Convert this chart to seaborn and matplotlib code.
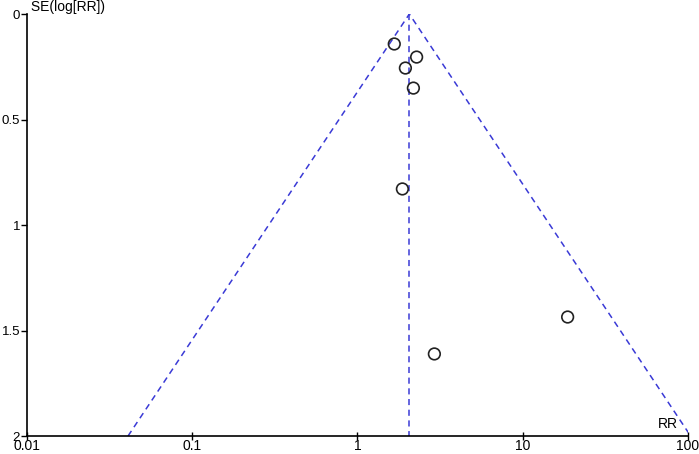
import matplotlib
matplotlib.use("Agg")
import matplotlib.pyplot as plt
import numpy as np
import pandas as pd
import seaborn as sns

# study estimates
rr = [1.67, 2.28, 1.95, 2.18, 1.87, 18.7, 2.92]
se = [0.142, 0.204, 0.256, 0.351, 0.829, 1.436, 1.611]
pooled_rr = 2.06
se_max = 2.0
x_ticks = [0.01, 0.1, 1, 10, 100]
x_tick_labels = ["0.01", "0.1", "1", "10", "100"]
y_ticks = [0, 0.5, 1, 1.5, 2]
y_tick_labels = ["0", "0.5", "1", "1.5", "2"]

sns.set_theme(style="white")
plt.rcParams["font.family"] = ["Liberation Sans", "DejaVu Sans"]

df = pd.DataFrame({"rr": rr, "se": se})

fig = plt.figure(figsize=(6.99, 4.54), dpi=100)
ax = fig.add_axes([0.0386, 0.0396, 0.9456, 0.9295])

line_color = "#3a3ad6"
funnel = pd.DataFrame({"se": [se_max, 0, se_max]})
funnel["rr"] = pooled_rr * np.exp(1.96 * funnel["se"] * np.array([-1, 0, 1]))
ax.plot(funnel["rr"], funnel["se"], ls=(0, (4, 3)), color=line_color, lw=1.1)
ax.plot([pooled_rr, pooled_rr], [0, se_max], ls=(0, (4, 3)), color=line_color, lw=1.1)

sns.scatterplot(data=df, x="rr", y="se", ax=ax, marker="o", s=70,
                facecolor="none", edgecolor="#222222", linewidth=1.2, zorder=3)

ax.set_xscale("log")
ax.set_xlim(0.01, 100)
ax.set_ylim(2, 0)
ax.set_xticks(x_ticks)
ax.set_xticklabels(x_tick_labels)
ax.set_yticks(y_ticks)
ax.set_yticklabels(y_tick_labels)
ax.minorticks_off()
ax.set_xlabel("")
ax.set_ylabel("")

for side in ["top", "right"]:
    ax.spines[side].set_visible(False)
for side in ["left", "bottom"]:
    ax.spines[side].set_color("black")
    ax.spines[side].set_linewidth(1.2)

ax.tick_params(axis="x", direction="inout", length=6, width=1, colors="black",
               labelsize=10, pad=-1, bottom=True)
ax.tick_params(axis="y", direction="out", length=4, width=1, colors="black",
               labelsize=9.5, pad=1, left=True)

ax.text(0.01, 0, " SE(log[RR])", transform=ax.transData, ha="left", va="bottom",
        fontsize=10, color="black")
ax.text(0.985, 0.012, "RR", transform=ax.transAxes, ha="right", va="bottom",
        fontsize=10, color="black")

fig.savefig("out.png", dpi=100)
